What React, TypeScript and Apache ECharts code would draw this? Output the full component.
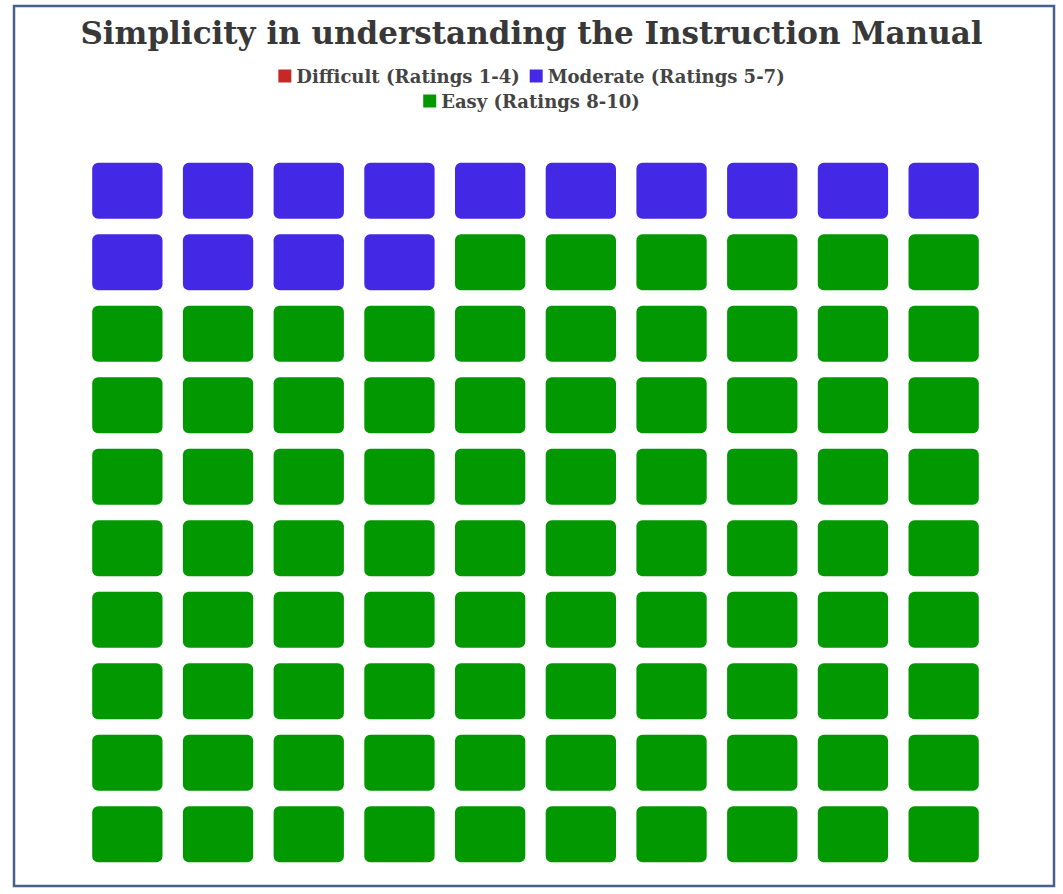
import { useEffect, useRef } from 'react';
import * as echarts from 'echarts';

const categories = ['Difficult (Ratings 1-4)', 'Moderate (Ratings 5-7)', 'Easy (Ratings 8-10)'];
const counts = [0, 14, 86];
const colors = ['#c62828', '#4329e6', '#029802'];
const gridCols = 10;
const gridRows = 10;

const FONT = '"DejaVu Serif", "Liberation Serif", serif';

export default function App() {
  const chartRef = useRef<HTMLDivElement | null>(null);

  useEffect(() => {
    if (!chartRef.current) return;
    const chart = echarts.init(chartRef.current, null, { renderer: 'svg' });

    // fill the waffle row by row, top-left first
    let idx = 0;
    const cellsPerCategory = counts.map((n) => {
      const cells: number[][] = [];
      for (let k = 0; k < n; k++) {
        cells.push([idx % gridCols, Math.floor(idx / gridCols)]);
        idx++;
      }
      return cells;
    });

    const xs = Array.from({ length: gridCols }, (_, i) => String(i));
    const ys = Array.from({ length: gridRows }, (_, i) => String(i));

    const legendText = { fontFamily: FONT, fontWeight: 'bold', fontSize: 18, color: '#444' };

    chart.setOption({
      animation: false,
      backgroundColor: '#ffffff',
      title: {
        text: 'Simplicity in understanding the Instruction Manual',
        left: 'center',
        top: 12,
        textStyle: { fontFamily: FONT, fontWeight: 'bold', fontSize: 31, color: '#383838' },
      },
      legend: [
        {
          data: categories.slice(0, 2),
          top: 62,
          left: 'center',
          icon: 'rect',
          itemWidth: 13,
          itemHeight: 13,
          itemGap: 10,
          selectedMode: false,
          textStyle: legendText,
        },
        {
          data: categories.slice(2),
          top: 87,
          left: 'center',
          icon: 'rect',
          itemWidth: 13,
          itemHeight: 13,
          selectedMode: false,
          textStyle: legendText,
        },
      ],
      grid: { left: 82, top: 155, width: 907, height: 715 },
      xAxis: { type: 'category', data: xs, show: false },
      yAxis: { type: 'category', data: ys, show: false, inverse: true },
      graphic: [
        {
          type: 'rect',
          shape: { x: 14, y: 6, width: 1040, height: 880 },
          style: { fill: 'none', stroke: '#45618c', lineWidth: 2.5 },
          silent: true,
        },
      ],
      series: categories.map((name, i) => ({
        name,
        type: 'custom',
        itemStyle: { color: colors[i] },
        data: cellsPerCategory[i],
        renderItem: (_params: any, api: any) => {
          const c = api.coord([api.value(0), api.value(1)]);
          const s = api.size([1, 1]);
          const w = s[0] * 0.775;
          const h = s[1] * 0.78;
          return {
            type: 'rect',
            shape: { x: c[0] - w / 2, y: c[1] - h / 2, width: w, height: h, r: 6 },
            style: { fill: api.visual('color') },
          };
        },
      })),
    });

    return () => chart.dispose();
  }, []);

  return (
    <div
      ref={chartRef}
      style={{ position: 'fixed', left: 0, top: 0, width: 1063, height: 894 }}
    />
  );
}
